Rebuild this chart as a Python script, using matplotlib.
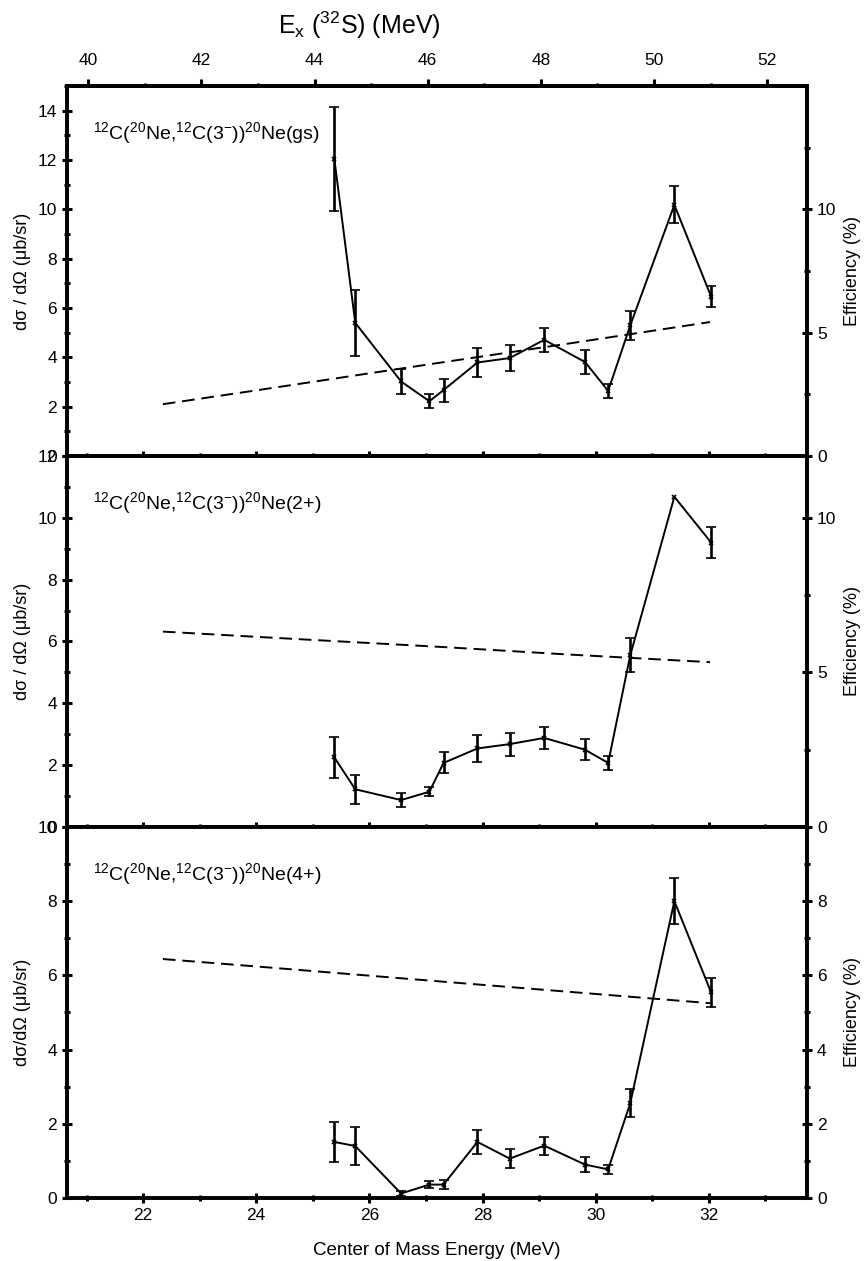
import numpy as np
import matplotlib
matplotlib.use("Agg")
import matplotlib.pyplot as plt
from matplotlib.ticker import MultipleLocator, FixedLocator

plt.rcParams['font.family'] = ['Liberation Sans', 'DejaVu Sans']
plt.rcParams['mathtext.default'] = 'regular'

# Center of mass energies (MeV), shared by the three panels
ecm = [25.38, 25.75, 26.56, 27.06, 27.31, 27.91, 28.48, 29.09, 29.81, 30.22, 30.61, 31.39, 32.04]

# Ne(gs)
xs_gs = [12.05, 5.40, 3.02, 2.22, 2.67, 3.79, 3.97, 4.71, 3.81, 2.64, 5.29, 10.18, 6.46]
err_gs = [2.10, 1.33, 0.52, 0.28, 0.47, 0.60, 0.52, 0.48, 0.47, 0.28, 0.58, 0.75, 0.43]
# Ne(2+)
xs_2p = [2.25, 1.22, 0.87, 1.14, 2.07, 2.54, 2.68, 2.88, 2.50, 2.07, 5.55, 10.68, 9.20]
err_2p = [0.66, 0.47, 0.23, 0.15, 0.34, 0.43, 0.37, 0.35, 0.33, 0.24, 0.55, np.nan, 0.50]
# Ne(4+)
xs_4p = [1.51, 1.40, 0.12, 0.36, 0.36, 1.51, 1.06, 1.41, 0.90, 0.77, 2.55, 8.00, 5.54]
err_4p = [0.54, 0.50, 0.06, 0.09, 0.13, 0.33, 0.25, 0.24, 0.20, 0.13, 0.38, 0.62, 0.39]

# detection efficiency (%) curves
eff_e = [22.35, 24.0, 27.3, 29.5, 32.02]
eff_gs = [2.10, 2.66, 3.80, 4.55, 5.43]
eff_2p = [6.32, 6.15, 5.82, 5.58, 5.33]
eff_4p = [6.44, 6.24, 5.83, 5.56, 5.25]

# top axis ticks, Ex(32S)
ex_major = [40, 42, 44, 46, 48, 50, 52]
ex_minor = [41, 43, 45, 47, 49, 51]

labels = [r"$^{12}$C($^{20}$Ne,$^{12}$C(3$^{-}$))$^{20}$Ne(gs)",
          r"$^{12}$C($^{20}$Ne,$^{12}$C(3$^{-}$))$^{20}$Ne(2+)",
          r"$^{12}$C($^{20}$Ne,$^{12}$C(3$^{-}$))$^{20}$Ne(4+)"]
ylabels = ["dσ / dΩ (μb/sr)", "dσ / dΩ (μb/sr)", "dσ/dΩ (μb/sr)"]
ytops = [15, 12, 10]

SEP = 18.97  # Ex(32S) = Ecm + separation energy

fig = plt.figure(figsize=(8.64, 12.61), dpi=100)
left, width = 0.0772, 0.8572
bottoms = [0.6384, 0.3442, 0.0500]
heights = [0.2934, 0.2942, 0.2942]

series = [(xs_gs, err_gs, eff_gs), (xs_2p, err_2p, eff_2p), (xs_4p, err_4p, eff_4p)]

for i, (ys, errs, eff) in enumerate(series):
    ax = fig.add_axes([left, bottoms[i], width, heights[i]])
    ax2 = ax.twinx()

    ax.errorbar(ecm, ys, yerr=errs, fmt='-', color='k', lw=1.4, marker='x',
                ms=3.5, mew=1.2, elinewidth=1.9, capsize=3.5, capthick=1.9)
    ax2.plot(eff_e, eff, color='k', lw=1.4, dashes=(6.5, 3.5))

    ax.set_xlim(20.65, 33.74)
    ax.set_ylim(0, ytops[i])
    ax2.set_ylim(0, ytops[i])

    ax.xaxis.set_major_locator(MultipleLocator(2))
    ax.xaxis.set_minor_locator(MultipleLocator(1))
    ax.yaxis.set_major_locator(MultipleLocator(2))
    ax.yaxis.set_minor_locator(MultipleLocator(1))
    if i < 2:
        ax2.yaxis.set_major_locator(FixedLocator([0, 5, 10]))
        ax2.yaxis.set_minor_locator(FixedLocator([2.5, 7.5, 12.5]))
    else:
        ax2.yaxis.set_major_locator(FixedLocator([0, 2, 4, 6, 8]))
        ax2.yaxis.set_minor_locator(FixedLocator([1, 3, 5, 7, 9]))

    ax.tick_params(which='major', direction='inout', length=7, width=2.2,
                   labelsize=12.5, top=False)
    ax.tick_params(which='minor', direction='inout', length=4, width=2.2, top=False)
    ax2.tick_params(which='major', direction='inout', length=7, width=2.2, labelsize=12.5)
    ax2.tick_params(which='minor', direction='inout', length=4, width=2.2)
    if i < 2:
        ax.tick_params(axis='x', labelbottom=False)
    else:
        ax.set_xlabel("Center of Mass Energy (MeV)", fontsize=13.5, labelpad=14)

    for a in (ax, ax2):
        for s in a.spines.values():
            s.set_linewidth(2.6)

    ax.set_ylabel(ylabels[i], fontsize=13)
    ax.yaxis.set_label_coords(-0.048, 0.5)
    ax2.set_ylabel("Efficiency (%)", fontsize=13)
    ax2.yaxis.set_label_coords(1.050, 0.5)

    ax.text(0.0355, 0.856, labels[i], transform=ax.transAxes, fontsize=14,
            va='baseline', ha='left')

    if i == 0:
        top = ax.secondary_xaxis('top', functions=(lambda e: e + SEP, lambda e: e - SEP))
        top.xaxis.set_major_locator(FixedLocator(ex_major))
        top.xaxis.set_minor_locator(FixedLocator(ex_minor))
        top.tick_params(which='major', direction='out', length=5, width=2.2,
                        labelsize=12.5, pad=8)
        top.tick_params(which='minor', direction='out', length=2.5, width=2.2)
        top.spines['top'].set_linewidth(2.6)

fig.text(0.4155, 0.980, r"E$_x$ ($^{32}$S) (MeV)", fontsize=18, ha='center', va='center')

fig.savefig("out.png", dpi=100)
